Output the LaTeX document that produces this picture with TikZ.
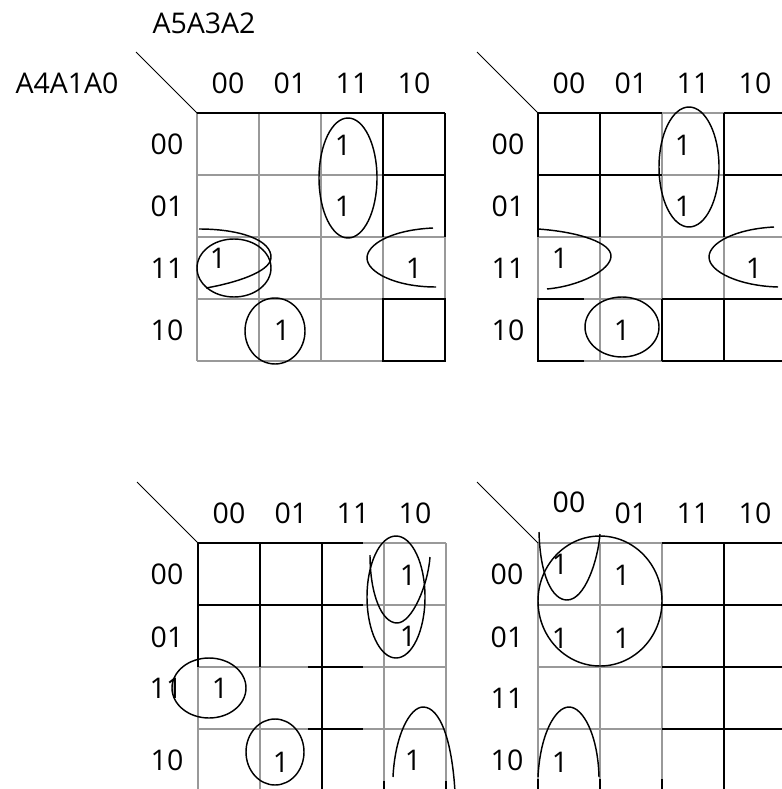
\documentclass[tikz,border=0pt]{standalone}
\usepackage{fontspec}
\setmainfont{Open Sans}

\begin{document}
\begin{tikzpicture}[x=1pt, y=-1pt, font=\fontsize{28.5}{32}\selectfont,
  lb/.style={inner sep=0pt},
  gl/.style={draw=gray!80, line width=1.4pt},
  bl/.style={draw=black, line width=2pt},
  grp/.style={line width=1.45pt},
  dg/.style={line width=0.9pt}
]
\useasboundingbox (0,0) rectangle (781,789);
% variable names
\node[lb] (top)  at (204,23) {A5A3A2};
\node[lb] (side) at (67,83)  {A4A1A0};
% map 1 (top left)
\begin{scope}[shift={(197,113)}]
\foreach \k in {0,62,...,248} {\draw[gl] (\k,0) -- (\k,248); \draw[gl] (0,\k) -- (248,\k);}
\draw[bl] (0,0) -- (248,0);
\draw[bl] (186,0) -- (186,124); \draw[bl] (248,0) -- (248,124);
\draw[bl] (186,62) -- (248,62);
\draw[bl] (186,186) rectangle (248,248);
\end{scope}
\draw[dg] (136,52) -- (197,113);
\node[lb] (pc0) at (228,83) {00}; \node[lb] (pc1) at (290,83) {01};
\node[lb] (pc2) at (352,83) {11}; \node[lb] (pc3) at (414,83) {10};
\node[lb] (pr0) at (167,144) {00}; \node[lb] (pr1) at (167,206) {01};
\node[lb] (pr2) at (167,268) {11}; \node[lb] (pr3) at (167,330) {10};
\node[lb] (p1a) at (343,145) {1}; \node[lb] (p1b) at (343,206) {1};
\node[lb] (p1c) at (218,258) {1}; \node[lb] (p1d) at (414,268) {1};
\node[lb] (p1e) at (282,330) {1};
\draw[grp] (348,178) ellipse [x radius=29, y radius=60];
\draw[grp] (234,268) ellipse [x radius=37, y radius=29];
\draw[grp] (199,229) .. controls (240,229) and (272,240) .. (271,258)
                     .. controls (270,272) and (235,283) .. (206,288);
\draw[grp] (433,228) .. controls (390,230) and (367,245) .. (367,258)
                     .. controls (367,272) and (395,287) .. (436,287);
\draw[grp] (275,331) ellipse [x radius=30, y radius=33];
% map 2 (top right)
\begin{scope}[shift={(538,113)}]
\foreach \k in {0,62,...,248} {\draw[gl] (\k,0) -- (\k,248); \draw[gl] (0,\k) -- (248,\k);}
\draw[bl] (0,0) -- (124,0); \draw[bl] (186,0) -- (248,0);
\draw[bl] (0,0) -- (0,124); \draw[bl] (62,0) -- (62,124);
\draw[bl] (186,0) -- (186,124); \draw[bl] (248,0) -- (248,124);
\draw[bl] (0,62) -- (124,62); \draw[bl] (186,62) -- (248,62);
\draw[bl] (46,186) -- (0,186) -- (0,248) -- (46,248);
\draw[bl] (124,186) -- (248,186); \draw[bl] (124,248) -- (248,248);
\draw[bl] (124,186) -- (124,248); \draw[bl] (186,186) -- (186,248);
\end{scope}
\draw[dg] (477,52) -- (538,113);
\node[lb] (qc0) at (569,83) {00}; \node[lb] (qc1) at (631,83) {01};
\node[lb] (qc2) at (693,83) {11}; \node[lb] (qc3) at (755,83) {10};
\node[lb] (qr0) at (508,144) {00}; \node[lb] (qr1) at (508,206) {01};
\node[lb] (qr2) at (508,268) {11}; \node[lb] (qr3) at (508,330) {10};
\node[lb] (q1a) at (683,145) {1}; \node[lb] (q1b) at (683,206) {1};
\node[lb] (q1c) at (560,258) {1}; \node[lb] (q1d) at (754,268) {1};
\node[lb] (q1e) at (622,330) {1};
\draw[grp] (689,167) ellipse [x radius=30, y radius=60];
\draw[grp] (538,229) .. controls (580,232) and (611,243) .. (611,256)
                     .. controls (611,270) and (580,286) .. (547,289);
\draw[grp] (774,227) .. controls (735,229) and (709,243) .. (709,257)
                     .. controls (709,272) and (740,286) .. (778,287);
\draw[grp] (622,327) ellipse [x radius=37, y radius=30];
% map 3 (bottom left)
\begin{scope}[shift={(198,543)}]
\foreach \k in {0,62,...,248} {\draw[gl] (\k,0) -- (\k,248); \draw[gl] (0,\k) -- (248,\k);}
\draw[bl] (0,0) -- (165,0); \draw[bl] (0,62) -- (165,62);
\draw[bl] (0,0) -- (0,124); \draw[bl] (62,0) -- (62,124);
\draw[bl] (124,0) -- (124,250);
\draw[bl] (110,124) -- (165,124); \draw[bl] (110,186) -- (165,186);
\draw[bl] (186,238) -- (186,250); \draw[bl] (248,238) -- (248,250);
\end{scope}
\draw[dg] (137,482) -- (198,543);
\node[lb] (rc0) at (229,513) {00}; \node[lb] (rc1) at (291,513) {01};
\node[lb] (rc2) at (353,513) {11}; \node[lb] (rc3) at (415,513) {10};
\node[lb] (rr0) at (167,574) {00}; \node[lb] (rr1) at (167,637) {01};
\node[lb] (rr2) at (166,688) {11}; \node[lb] (rr3) at (167,760) {10};
\node[lb] (r1a) at (408,575) {1}; \node[lb] (r1b) at (408,636) {1};
\node[lb] (r1c) at (220,688) {1}; \node[lb] (r1d) at (281,762) {1};
\node[lb] (r1e) at (413,760) {1};
\draw[grp] (396,597) ellipse [x radius=29, y radius=61];
\draw[grp] (370,555) .. controls (370,595) and (382,623) .. (397,623)
                     .. controls (412,623) and (428,585) .. (430,557);
\draw[grp] (393,777) .. controls (395,735) and (410,707) .. (423,707)
                     .. controls (440,707) and (452,740) .. (455,792);
\draw[grp] (209,688) ellipse [x radius=37, y radius=30];
\draw[grp] (275,752) ellipse [x radius=29, y radius=33];
% map 4 (bottom right)
\begin{scope}[shift={(538,543)}]
\foreach \k in {0,62,...,248} {\draw[gl] (\k,0) -- (\k,248); \draw[gl] (0,\k) -- (248,\k);}
\draw[bl] (124,0) -- (248,0); \draw[bl] (124,62) -- (248,62);
\draw[bl] (124,124) -- (248,124); \draw[bl] (124,186) -- (248,186);
\draw[bl] (186,0) -- (186,250); \draw[bl] (248,0) -- (248,250);
\draw[bl] (0,236) -- (0,250); \draw[bl] (62,236) -- (62,250);
\draw[bl] (124,236) -- (124,250);
\end{scope}
\draw[dg] (477,482) -- (538,543);
\node[lb] (sc0) at (569,502) {00}; \node[lb] (sc1) at (631,513) {01};
\node[lb] (sc2) at (693,513) {11}; \node[lb] (sc3) at (755,513) {10};
\node[lb] (sr0) at (507,574) {00}; \node[lb] (sr1) at (507,637) {01};
\node[lb] (sr2) at (507,698) {11}; \node[lb] (sr3) at (507,760) {10};
\node[lb] (s1a) at (560,564) {1}; \node[lb] (s1b) at (622,575) {1};
\node[lb] (s1c) at (560,638) {1}; \node[lb] (s1d) at (622,638) {1};
\node[lb] (s1e) at (560,762) {1};
\draw[grp] (600,601) ellipse [x radius=62, y radius=65];
\draw[grp] (539,532) .. controls (540,575) and (552,600) .. (567,600)
                     .. controls (585,600) and (598,560) .. (600,534);
\draw[grp] (538,777) .. controls (540,735) and (555,707) .. (569,707)
                     .. controls (583,707) and (598,735) .. (599,777);
\end{tikzpicture}
\end{document}
